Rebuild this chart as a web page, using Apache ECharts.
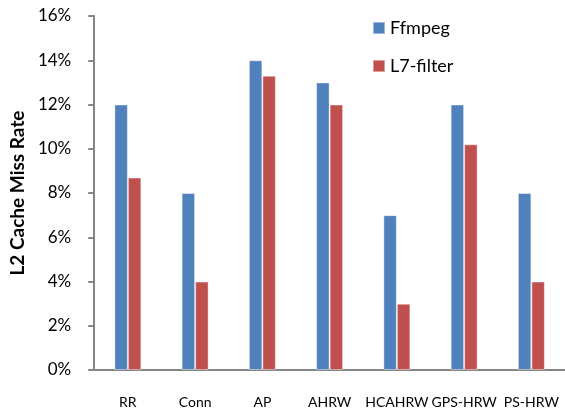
<!DOCTYPE html>
<html>
<head>
<meta charset="utf-8">
<script src="https://cdn.jsdelivr.net/npm/echarts@6/dist/echarts.min.js"></script>
<style>
  html, body { margin: 0; padding: 0; background: #fff; }
  #chart { width: 565px; height: 411px; }
</style>
</head>
<body>
<div id="chart"></div>
<script>
// Miss rate per load-balancing scheme, in percent
const categories = ['RR', 'Conn', 'AP', 'AHRW', 'HCAHRW', 'GPS-HRW', 'PS-HRW'];
const ffmpeg = [12, 8, 14, 13, 7, 12, 8];
const l7filter = [8.7, 4, 13.3, 12, 3, 10.2, 4];
const yTicks = [0, 2, 4, 6, 8, 10, 12, 14, 16];

const font = 'Lato, "Open Sans", sans-serif';
const axisGray = '#868686';

const chart = echarts.init(document.getElementById('chart'), null, { renderer: 'canvas' });

const barStyle = (color) => ({
  color: color,
  borderColor: 'rgba(255,255,255,0.45)',
  borderWidth: 1
});

chart.setOption({
  animation: false,
  backgroundColor: '#ffffff',
  textStyle: { fontFamily: font },
  grid: { left: 92, top: 16, width: 478, height: 354, containLabel: false },
  legend: {
    orient: 'vertical',
    left: 367,
    top: 14,
    itemWidth: 12,
    itemHeight: 12,
    itemGap: 20,
    icon: 'rect',
    textStyle: { fontFamily: font, fontSize: 18, color: '#000' },
    data: ['Ffmpeg', 'L7-filter']
  },
  xAxis: {
    type: 'category',
    data: categories,
    axisLine: { lineStyle: { color: axisGray, width: 2 } },
    axisTick: { show: false },
    axisLabel: { color: '#000', fontSize: 14, fontFamily: font, margin: 25, interval: 0 }
  },
  yAxis: {
    type: 'value',
    min: yTicks[0],
    max: yTicks[yTicks.length - 1],
    interval: 2,
    name: 'L2 Cache Miss Rate',
    nameLocation: 'middle',
    nameGap: 66,
    nameTextStyle: { fontFamily: font, fontSize: 19, fontWeight: 'bold', color: '#000' },
    axisLine: { show: true, lineStyle: { color: axisGray, width: 2 } },
    axisTick: { show: true, length: 6, lineStyle: { color: axisGray, width: 2 } },
    splitLine: { show: false },
    axisLabel: {
      color: '#000', fontSize: 17, fontFamily: font, margin: 23,
      formatter: (v) => v + '%'
    }
  },
  series: [
    {
      name: 'Ffmpeg', type: 'bar', data: ffmpeg,
      barWidth: 13.5, barGap: '0%',
      itemStyle: barStyle('#4F81BD')
    },
    {
      name: 'L7-filter', type: 'bar', data: l7filter,
      barWidth: 13.5, barGap: '0%',
      itemStyle: barStyle('#C0504D')
    }
  ]
});
</script>
</body>
</html>
